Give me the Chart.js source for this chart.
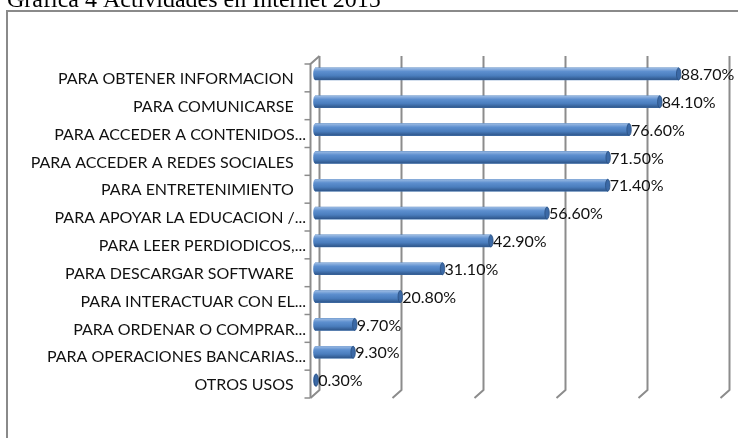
<!DOCTYPE html>
<html>
<head>
<meta charset="utf-8">
<script src="https://cdn.jsdelivr.net/npm/chart.js@4/dist/chart.umd.min.js"></script>
<style>
html,body{margin:0;padding:0;background:#fff;}
#wrap{position:relative;width:738px;height:438px;}
</style>
</head>
<body>
<div id="wrap"><canvas id="c" width="738" height="438"></canvas></div>
<script>
const titleText = "Gráfica 4 Actividades en Internet 2015";
const categories = [
  "PARA OBTENER INFORMACION   ",
  "PARA COMUNICARSE   ",
  "PARA ACCEDER A CONTENIDOS...",
  "PARA ACCEDER A REDES SOCIALES   ",
  "PARA ENTRETENIMIENTO   ",
  "PARA APOYAR LA EDUCACION /...",
  "PARA LEER PERDIODICOS,...",
  "PARA DESCARGAR SOFTWARE   ",
  "PARA INTERACTUAR CON EL...",
  "PARA ORDENAR O COMPRAR...",
  "PARA OPERACIONES BANCARIAS...",
  "OTROS USOS   "
];
const values = [88.7, 84.1, 76.6, 71.5, 71.4, 56.6, 42.9, 31.1, 20.8, 9.7, 9.3, 0.3];
const gridValues = [0, 20, 40, 60, 80, 100];

const DX = 4.5, DY = 4;
const FONT = "Lato";

const decor = {
  id: 'decor',
  beforeDraw(chart) {
    const ctx = chart.ctx;
    ctx.save();
    ctx.fillStyle = '#000';
    ctx.font = '24px "Liberation Serif"';
    ctx.textBaseline = 'alphabetic';
    ctx.textAlign = 'left';
    ctx.fillText(titleText, 7, 7);
    ctx.strokeStyle = '#8a8a8a';
    ctx.lineWidth = 2;
    ctx.beginPath();
    ctx.moveTo(7, 438);
    ctx.lineTo(7, 11);
    ctx.lineTo(738, 11);
    ctx.stroke();
    ctx.restore();
  },
  beforeDatasetsDraw(chart) {
    const ctx = chart.ctx;
    const xs = chart.scales.x;
    const a = chart.chartArea;
    ctx.save();
    ctx.strokeStyle = '#8c8c8c';
    ctx.lineWidth = 2;
    ctx.lineJoin = 'round';
    gridValues.forEach(v => {
      const xb = xs.getPixelForValue(v) + DX;
      ctx.beginPath();
      ctx.moveTo(xb, a.top - DY);
      ctx.lineTo(xb, a.bottom - DY);
      ctx.lineTo(xb - 2 * DX, a.bottom + DY);
      ctx.stroke();
    });
    const xf = xs.getPixelForValue(0) - DX;
    ctx.beginPath();
    ctx.moveTo(xs.getPixelForValue(0) + DX, a.top - DY);
    ctx.lineTo(xf, a.top + DY);
    ctx.lineTo(xf, a.bottom + DY);
    ctx.stroke();
    const n = categories.length;
    const slot = (a.bottom - a.top) / n;
    ctx.lineWidth = 1.5;
    for (let i = 0; i <= n; i++) {
      const yy = a.top + DY + i * slot;
      ctx.beginPath();
      ctx.moveTo(xf - 6, yy);
      ctx.lineTo(xf, yy);
      ctx.stroke();
    }
    ctx.restore();
  },
  afterDatasetsDraw(chart) {
    const ctx = chart.ctx;
    const meta = chart.getDatasetMeta(0);
    ctx.save();
    meta.data.forEach((el, i) => {
      const p = el.getProps(['x', 'y', 'base', 'height'], true);
      const h = p.height, top = p.y - h / 2;
      const g = ctx.createLinearGradient(0, top, 0, top + h);
      g.addColorStop(0, '#9dbce4');
      g.addColorStop(0.3, '#5d8fcf');
      g.addColorStop(0.65, '#4a7dbd');
      g.addColorStop(1, '#2d5488');
      ctx.fillStyle = g;
      const w = Math.max(p.x - p.base, 0);
      ctx.fillRect(p.base, top, w, h);
      ctx.beginPath();
      ctx.ellipse(p.base, p.y, 1.8, h / 2, 0, 0, Math.PI * 2);
      ctx.fillStyle = g;
      ctx.fill();
      ctx.beginPath();
      ctx.ellipse(p.x, p.y, 2.2, h / 2, 0, 0, Math.PI * 2);
      ctx.fillStyle = '#3b69a6';
      ctx.fill();
      ctx.strokeStyle = '#2a4f80';
      ctx.lineWidth = 0.8;
      ctx.stroke();
      ctx.fillStyle = '#111';
      ctx.font = '16px ' + FONT;
      ctx.textAlign = 'left';
      ctx.textBaseline = 'middle';
      ctx.fillText(values[i].toFixed(2) + '%', p.x + 2, p.y + 1);
    });
    ctx.restore();
  }
};

new Chart(document.getElementById('c'), {
  type: 'bar',
  data: {
    labels: categories,
    datasets: [{
      data: values,
      backgroundColor: '#4f81bd',
      borderWidth: 0,
      barThickness: 12
    }]
  },
  options: {
    indexAxis: 'y',
    responsive: false,
    animation: false,
    layout: { padding: { top: 60, bottom: 44, right: 13, left: 0 } },
    plugins: { legend: { display: false }, tooltip: { enabled: false }, title: { display: false } },
    scales: {
      x: { min: 0, max: 100, display: false },
      y: {
        display: true,
        grid: { display: false, drawTicks: false },
        border: { display: false },
        ticks: {
          color: '#111',
          font: { family: FONT, size: 16 },
          padding: 9,
          labelOffset: 5,
          autoSkip: false
        },
        afterFit(scale) { scale.width = 315; }
      }
    }
  },
  plugins: [decor]
});
</script>
</body>
</html>
